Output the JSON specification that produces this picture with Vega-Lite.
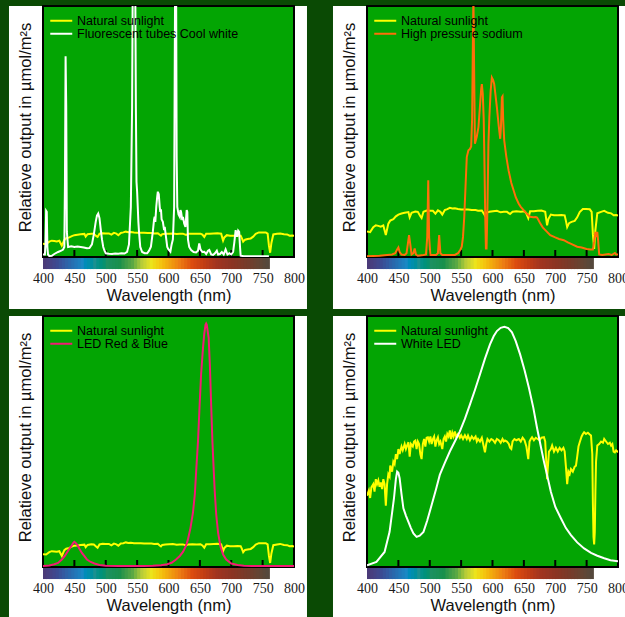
{
"$schema":"https://vega.github.io/schema/vega-lite/v6.json",
"background":"#0a4a04",
"padding":{"left":8,"top":5,"right":0,"bottom":0},
"config":{
 "view":{"stroke":null,"fill":null},
 "legend":{"orient":"none","legendX":12,"legendY":8.5,"symbolType":"M-2.75,0H2.75","symbolSize":64,"symbolStrokeWidth":2,"labelFont":"Liberation Sans","labelFontSize":12.5,"labelColor":"#000000","labelOffset":9.5,"labelLimit":0,"rowPadding":0,"padding":0}
},
"datasets":{
 "one":[{}],
 "spectrum":[{"a":400,"b":405},{"a":405,"b":410},{"a":410,"b":415},{"a":415,"b":420},{"a":420,"b":425},{"a":425,"b":430},{"a":430,"b":435},{"a":435,"b":440},{"a":440,"b":445},{"a":445,"b":450},{"a":450,"b":455},{"a":455,"b":460},{"a":460,"b":465},{"a":465,"b":470},{"a":470,"b":475},{"a":475,"b":480},{"a":480,"b":485},{"a":485,"b":490},{"a":490,"b":495},{"a":495,"b":500},{"a":500,"b":505},{"a":505,"b":510},{"a":510,"b":515},{"a":515,"b":520},{"a":520,"b":525},{"a":525,"b":530},{"a":530,"b":535},{"a":535,"b":540},{"a":540,"b":545},{"a":545,"b":550},{"a":550,"b":555},{"a":555,"b":560},{"a":560,"b":565},{"a":565,"b":570},{"a":570,"b":575},{"a":575,"b":580},{"a":580,"b":585},{"a":585,"b":590},{"a":590,"b":595},{"a":595,"b":600},{"a":600,"b":605},{"a":605,"b":610},{"a":610,"b":615},{"a":615,"b":620},{"a":620,"b":625},{"a":625,"b":630},{"a":630,"b":635},{"a":635,"b":640},{"a":640,"b":645},{"a":645,"b":650},{"a":650,"b":655},{"a":655,"b":660},{"a":660,"b":665},{"a":665,"b":670},{"a":670,"b":675},{"a":675,"b":680},{"a":680,"b":685},{"a":685,"b":690},{"a":690,"b":695},{"a":695,"b":700},{"a":700,"b":705},{"a":705,"b":710},{"a":710,"b":715},{"a":715,"b":720},{"a":720,"b":725},{"a":725,"b":730},{"a":730,"b":735},{"a":735,"b":740},{"a":740,"b":745},{"a":745,"b":750},{"a":750,"b":755},{"a":755,"b":760}],
 "ticks":[{"t":450},{"t":500},{"t":550},{"t":600},{"t":650},{"t":700},{"t":750}],
 "sun1":[{"wl":400,"v":5.3},{"wl":405,"v":5.1},{"wl":410,"v":6.1},{"wl":414,"v":6.5},{"wl":418,"v":6.4},{"wl":422,"v":6.2},{"wl":426,"v":6.5},{"wl":430,"v":4.5},{"wl":434,"v":6.8},{"wl":437,"v":7.5},{"wl":442,"v":7.8},{"wl":446,"v":8.3},{"wl":450,"v":8.7},{"wl":455,"v":8.9},{"wl":460,"v":9.1},{"wl":466,"v":9.2},{"wl":468,"v":8.1},{"wl":471,"v":9.1},{"wl":477,"v":9.3},{"wl":481,"v":9.3},{"wl":485,"v":8.3},{"wl":487,"v":8},{"wl":490,"v":9.3},{"wl":495,"v":9.5},{"wl":500,"v":9.4},{"wl":505,"v":9.4},{"wl":509,"v":8.9},{"wl":513,"v":9.6},{"wl":517,"v":9.3},{"wl":520,"v":8.7},{"wl":524,"v":9.6},{"wl":528,"v":9.8},{"wl":532,"v":10.1},{"wl":536,"v":9.9},{"wl":540,"v":10},{"wl":545,"v":9.8},{"wl":550,"v":9.7},{"wl":556,"v":9.7},{"wl":561,"v":9.7},{"wl":567,"v":9.6},{"wl":573,"v":9.6},{"wl":577,"v":9.4},{"wl":583,"v":9.5},{"wl":586,"v":8.9},{"wl":588,"v":8.5},{"wl":590,"v":9.1},{"wl":595,"v":9.3},{"wl":601,"v":9.3},{"wl":607,"v":9.4},{"wl":613,"v":9.2},{"wl":618,"v":9.3},{"wl":623,"v":9.3},{"wl":628,"v":8.8},{"wl":632,"v":9.3},{"wl":638,"v":9.3},{"wl":645,"v":9.3},{"wl":651,"v":9.3},{"wl":654,"v":8.9},{"wl":657,"v":8},{"wl":660,"v":9.3},{"wl":666,"v":9.3},{"wl":672,"v":9.4},{"wl":678,"v":9.5},{"wl":684,"v":9.3},{"wl":686,"v":7.4},{"wl":687,"v":6.5},{"wl":689,"v":7.8},{"wl":693,"v":8.7},{"wl":698,"v":8.5},{"wl":704,"v":8.5},{"wl":710,"v":8.6},{"wl":715,"v":8.5},{"wl":717,"v":7.4},{"wl":719,"v":6.1},{"wl":722,"v":6.9},{"wl":726,"v":7.2},{"wl":731,"v":7.4},{"wl":735,"v":8.1},{"wl":739,"v":9.2},{"wl":744,"v":9.8},{"wl":749,"v":9.8},{"wl":755,"v":9.8},{"wl":758,"v":9.3},{"wl":760,"v":4.6},{"wl":762,"v":1.7},{"wl":764,"v":5.6},{"wl":767,"v":9},{"wl":773,"v":9.3},{"wl":778,"v":9.4},{"wl":784,"v":9.1},{"wl":789,"v":9},{"wl":793,"v":8.5},{"wl":797,"v":8.6},{"wl":800,"v":8.5}],
 "fl":[{"wl":400,"v":1},{"wl":403,"v":1},{"wl":404,"v":5},{"wl":405,"v":18.4},{"wl":406,"v":18},{"wl":407,"v":4},{"wl":408,"v":1},{"wl":410,"v":0.4},{"wl":414,"v":0.5},{"wl":418,"v":1.2},{"wl":424,"v":2},{"wl":429,"v":2.5},{"wl":432,"v":3},{"wl":434,"v":4},{"wl":435,"v":30},{"wl":436,"v":80},{"wl":437,"v":60},{"wl":438,"v":10},{"wl":440,"v":4},{"wl":445,"v":4.3},{"wl":450,"v":4},{"wl":455,"v":4.2},{"wl":460,"v":4},{"wl":465,"v":3.8},{"wl":470,"v":3.5},{"wl":474,"v":3.6},{"wl":478,"v":5},{"wl":481,"v":9},{"wl":484,"v":14},{"wl":486,"v":16.5},{"wl":488,"v":17.3},{"wl":490,"v":15.5},{"wl":492,"v":11},{"wl":494,"v":7},{"wl":496,"v":4},{"wl":498,"v":2.5},{"wl":500,"v":1.5},{"wl":505,"v":1.3},{"wl":510,"v":1.2},{"wl":515,"v":1.4},{"wl":520,"v":1.3},{"wl":525,"v":1.5},{"wl":530,"v":1.4},{"wl":534,"v":2},{"wl":537,"v":5},{"wl":540,"v":20},{"wl":542,"v":60},{"wl":543,"v":110},{"wl":545,"v":130},{"wl":547,"v":110},{"wl":548,"v":60},{"wl":549,"v":30},{"wl":550,"v":26},{"wl":551,"v":20},{"wl":552,"v":14},{"wl":553,"v":10},{"wl":555,"v":4},{"wl":558,"v":2},{"wl":562,"v":1.5},{"wl":566,"v":1.5},{"wl":569,"v":2.5},{"wl":572,"v":4.1},{"wl":575,"v":10},{"wl":577,"v":15},{"wl":578,"v":16},{"wl":579,"v":14},{"wl":580.5,"v":20},{"wl":582,"v":24},{"wl":583,"v":26},{"wl":584.5,"v":25},{"wl":586,"v":20},{"wl":587,"v":18},{"wl":588,"v":19},{"wl":589,"v":15},{"wl":591,"v":14},{"wl":593,"v":10.7},{"wl":594,"v":12},{"wl":596,"v":8},{"wl":598,"v":4},{"wl":600,"v":3},{"wl":603,"v":2.1},{"wl":605,"v":5},{"wl":607,"v":7},{"wl":609,"v":20},{"wl":610,"v":80},{"wl":611,"v":130},{"wl":612,"v":120},{"wl":613,"v":40},{"wl":614,"v":20},{"wl":616,"v":17},{"wl":618,"v":16},{"wl":619,"v":18.7},{"wl":620,"v":18},{"wl":622,"v":14.7},{"wl":623,"v":16},{"wl":625,"v":13.4},{"wl":627,"v":12},{"wl":629,"v":18.7},{"wl":630,"v":18},{"wl":631,"v":7},{"wl":633,"v":4},{"wl":636,"v":2.8},{"wl":640,"v":2},{"wl":644,"v":1.8},{"wl":647,"v":2.5},{"wl":649,"v":5.4},{"wl":651,"v":3},{"wl":654,"v":2},{"wl":657,"v":2.1},{"wl":660,"v":1.2},{"wl":663,"v":2.5},{"wl":665,"v":2.8},{"wl":668,"v":1},{"wl":671,"v":0.8},{"wl":674,"v":1.5},{"wl":677,"v":2.5},{"wl":679,"v":1},{"wl":682,"v":1.2},{"wl":685,"v":2},{"wl":688,"v":1},{"wl":691,"v":3},{"wl":694,"v":1},{"wl":697,"v":1.5},{"wl":700,"v":1},{"wl":703,"v":2},{"wl":705,"v":6},{"wl":707,"v":10.7},{"wl":709,"v":8},{"wl":711,"v":10.5},{"wl":712.6,"v":10},{"wl":714,"v":4},{"wl":715,"v":0.5},{"wl":720,"v":0.3},{"wl":730,"v":0.3},{"wl":740,"v":0.3},{"wl":750,"v":0.3},{"wl":760,"v":0.3}],
 "sun2":[{"wl":400,"v":10.2},{"wl":405,"v":9.9},{"wl":410,"v":11.9},{"wl":414,"v":12.6},{"wl":418,"v":12.4},{"wl":422,"v":12.1},{"wl":426,"v":12.6},{"wl":430,"v":8.8},{"wl":434,"v":13.3},{"wl":437,"v":14.5},{"wl":442,"v":15.1},{"wl":446,"v":16.2},{"wl":450,"v":16.9},{"wl":455,"v":17.3},{"wl":460,"v":17.6},{"wl":466,"v":17.9},{"wl":468,"v":15.8},{"wl":471,"v":17.6},{"wl":477,"v":18.1},{"wl":481,"v":18},{"wl":485,"v":16.2},{"wl":487,"v":15.5},{"wl":490,"v":18},{"wl":495,"v":18.5},{"wl":500,"v":18.4},{"wl":505,"v":18.4},{"wl":509,"v":17.3},{"wl":513,"v":18.6},{"wl":517,"v":18},{"wl":520,"v":16.9},{"wl":524,"v":18.7},{"wl":528,"v":19.1},{"wl":532,"v":19.6},{"wl":536,"v":19.3},{"wl":540,"v":19.4},{"wl":545,"v":19.1},{"wl":550,"v":18.9},{"wl":556,"v":18.9},{"wl":561,"v":18.9},{"wl":567,"v":18.7},{"wl":573,"v":18.7},{"wl":577,"v":18.4},{"wl":583,"v":18.5},{"wl":586,"v":17.3},{"wl":588,"v":16.5},{"wl":590,"v":17.6},{"wl":595,"v":18},{"wl":601,"v":18.2},{"wl":607,"v":18.4},{"wl":613,"v":17.8},{"wl":618,"v":18},{"wl":623,"v":18},{"wl":628,"v":17.1},{"wl":632,"v":18},{"wl":638,"v":18.2},{"wl":645,"v":18},{"wl":651,"v":18.2},{"wl":654,"v":17.3},{"wl":657,"v":15.5},{"wl":660,"v":18.2},{"wl":666,"v":18.2},{"wl":672,"v":18.4},{"wl":678,"v":18.5},{"wl":684,"v":18},{"wl":686,"v":14.4},{"wl":687,"v":12.6},{"wl":689,"v":15.1},{"wl":693,"v":16.9},{"wl":698,"v":16.6},{"wl":704,"v":16.6},{"wl":710,"v":16.7},{"wl":715,"v":16.6},{"wl":717,"v":14.4},{"wl":719,"v":11.9},{"wl":722,"v":13.5},{"wl":726,"v":14},{"wl":731,"v":14.4},{"wl":735,"v":15.8},{"wl":739,"v":17.9},{"wl":744,"v":19.1},{"wl":749,"v":19.1},{"wl":755,"v":19},{"wl":758,"v":18},{"wl":760,"v":9},{"wl":762,"v":3.2},{"wl":764,"v":10.8},{"wl":767,"v":17.4},{"wl":773,"v":18},{"wl":778,"v":18.4},{"wl":784,"v":17.6},{"wl":789,"v":17.4},{"wl":793,"v":16.6},{"wl":797,"v":16.7},{"wl":800,"v":16.5}],
 "hps":[{"wl":400,"v":0.3},{"wl":420,"v":0.5},{"wl":440,"v":1},{"wl":445,"v":1.5},{"wl":448,"v":3},{"wl":450,"v":3.8},{"wl":452,"v":2},{"wl":455,"v":1},{"wl":460,"v":0.8},{"wl":463,"v":1.5},{"wl":465,"v":5},{"wl":467,"v":8.7},{"wl":469,"v":5},{"wl":471,"v":1},{"wl":474,"v":1.5},{"wl":476,"v":3.4},{"wl":478,"v":1},{"wl":481,"v":0.5},{"wl":490,"v":0.8},{"wl":494,"v":1},{"wl":496,"v":8},{"wl":497.6,"v":30.6},{"wl":499,"v":8},{"wl":501,"v":0.8},{"wl":510,"v":0.8},{"wl":513,"v":1.5},{"wl":515,"v":8.7},{"wl":517,"v":1.5},{"wl":520,"v":0.8},{"wl":530,"v":0.8},{"wl":540,"v":0.8},{"wl":545,"v":1.5},{"wl":549,"v":3},{"wl":551,"v":4.1},{"wl":553,"v":8},{"wl":555,"v":16},{"wl":557,"v":28},{"wl":559,"v":39.8},{"wl":561.6,"v":42.5},{"wl":564,"v":43},{"wl":566,"v":44},{"wl":567.5,"v":55},{"wl":568.5,"v":80},{"wl":569.6,"v":105},{"wl":570.5,"v":80},{"wl":572,"v":45.1},{"wl":575,"v":48},{"wl":577.6,"v":51.7},{"wl":580,"v":60},{"wl":582,"v":67},{"wl":583,"v":68.9},{"wl":584.5,"v":65},{"wl":586,"v":55},{"wl":587,"v":40},{"wl":588.5,"v":15},{"wl":589.5,"v":3.4},{"wl":590.5,"v":3.4},{"wl":592,"v":20},{"wl":593.5,"v":45},{"wl":595,"v":55.7},{"wl":597,"v":66},{"wl":599,"v":71.5},{"wl":601,"v":70.5},{"wl":602.7,"v":68.9},{"wl":605,"v":64},{"wl":607,"v":59.6},{"wl":610,"v":52},{"wl":612.3,"v":47.1},{"wl":613.5,"v":52},{"wl":615,"v":63.6},{"wl":616,"v":64},{"wl":617,"v":55},{"wl":618.7,"v":46.4},{"wl":622,"v":40},{"wl":625.6,"v":34.5},{"wl":630,"v":29.5},{"wl":633.6,"v":26.6},{"wl":637,"v":23.8},{"wl":641.6,"v":21.3},{"wl":645,"v":20},{"wl":649.6,"v":18.7},{"wl":655,"v":17.2},{"wl":660,"v":16},{"wl":665,"v":15.8},{"wl":669,"v":15.9},{"wl":671,"v":15.7},{"wl":673,"v":14.8},{"wl":676,"v":13.4},{"wl":680,"v":11.8},{"wl":685,"v":10.5},{"wl":692,"v":8.7},{"wl":700,"v":7.8},{"wl":706,"v":7.2},{"wl":713.6,"v":6.7},{"wl":720,"v":5.8},{"wl":727,"v":5},{"wl":735,"v":4.1},{"wl":742,"v":3.8},{"wl":750,"v":3.2},{"wl":756,"v":3},{"wl":760,"v":3},{"wl":762,"v":6},{"wl":764,"v":10},{"wl":766,"v":8},{"wl":767,"v":10},{"wl":768.5,"v":6},{"wl":770,"v":1},{"wl":775,"v":0.8},{"wl":780,"v":1},{"wl":785,"v":1.2},{"wl":790,"v":0.8},{"wl":795,"v":1.6},{"wl":797,"v":1},{"wl":800,"v":1}],
 "sun3":[{"wl":400,"v":5.1},{"wl":405,"v":5},{"wl":410,"v":5.9},{"wl":414,"v":6.3},{"wl":418,"v":6.2},{"wl":422,"v":6.1},{"wl":426,"v":6.3},{"wl":430,"v":4.4},{"wl":434,"v":6.7},{"wl":437,"v":7.3},{"wl":442,"v":7.6},{"wl":446,"v":8.1},{"wl":450,"v":8.5},{"wl":455,"v":8.6},{"wl":460,"v":8.8},{"wl":466,"v":8.9},{"wl":468,"v":7.9},{"wl":471,"v":8.8},{"wl":477,"v":9.1},{"wl":481,"v":9},{"wl":485,"v":8.1},{"wl":487,"v":7.7},{"wl":490,"v":9},{"wl":495,"v":9.3},{"wl":500,"v":9.2},{"wl":505,"v":9.2},{"wl":509,"v":8.6},{"wl":513,"v":9.3},{"wl":517,"v":9},{"wl":520,"v":8.5},{"wl":524,"v":9.4},{"wl":528,"v":9.5},{"wl":532,"v":9.8},{"wl":536,"v":9.6},{"wl":540,"v":9.7},{"wl":545,"v":9.5},{"wl":550,"v":9.5},{"wl":556,"v":9.5},{"wl":561,"v":9.4},{"wl":567,"v":9.4},{"wl":573,"v":9.4},{"wl":577,"v":9.2},{"wl":583,"v":9.3},{"wl":586,"v":8.6},{"wl":588,"v":8.2},{"wl":590,"v":8.8},{"wl":595,"v":9},{"wl":601,"v":9.1},{"wl":607,"v":9.2},{"wl":613,"v":8.9},{"wl":618,"v":9},{"wl":623,"v":9},{"wl":628,"v":8.6},{"wl":632,"v":9},{"wl":638,"v":9.1},{"wl":645,"v":9},{"wl":651,"v":9.1},{"wl":654,"v":8.6},{"wl":657,"v":7.7},{"wl":660,"v":9.1},{"wl":666,"v":9.1},{"wl":672,"v":9.2},{"wl":678,"v":9.3},{"wl":684,"v":9},{"wl":686,"v":7.2},{"wl":687,"v":6.3},{"wl":689,"v":7.6},{"wl":693,"v":8.5},{"wl":698,"v":8.3},{"wl":704,"v":8.3},{"wl":710,"v":8.4},{"wl":715,"v":8.3},{"wl":717,"v":7.2},{"wl":719,"v":5.9},{"wl":722,"v":6.8},{"wl":726,"v":7},{"wl":731,"v":7.2},{"wl":735,"v":7.9},{"wl":739,"v":8.9},{"wl":744,"v":9.5},{"wl":749,"v":9.5},{"wl":755,"v":9.5},{"wl":758,"v":9},{"wl":760,"v":4.5},{"wl":762,"v":1.6},{"wl":764,"v":5.4},{"wl":767,"v":8.7},{"wl":773,"v":9},{"wl":778,"v":9.2},{"wl":784,"v":8.8},{"wl":789,"v":8.7},{"wl":793,"v":8.3},{"wl":797,"v":8.4},{"wl":800,"v":8.2}],
 "led":[{"wl":400,"v":0.4},{"wl":410,"v":0.6},{"wl":418,"v":1.1},{"wl":424,"v":1.6},{"wl":430,"v":3},{"wl":435,"v":4.5},{"wl":440,"v":6.5},{"wl":445,"v":8.3},{"wl":448,"v":9.5},{"wl":450,"v":10},{"wl":452,"v":9.6},{"wl":455,"v":8.7},{"wl":458,"v":7.3},{"wl":462,"v":5.6},{"wl":466,"v":4.3},{"wl":470,"v":3},{"wl":476,"v":2},{"wl":482,"v":1.4},{"wl":490,"v":0.8},{"wl":500,"v":0.5},{"wl":520,"v":0.4},{"wl":540,"v":0.4},{"wl":560,"v":0.4},{"wl":575,"v":0.5},{"wl":588,"v":0.7},{"wl":598,"v":1.1},{"wl":605,"v":1.7},{"wl":612,"v":3},{"wl":618,"v":4.4},{"wl":623,"v":6},{"wl":628,"v":8.5},{"wl":631,"v":11},{"wl":635,"v":15.5},{"wl":639,"v":21.7},{"wl":642,"v":29},{"wl":644,"v":37.8},{"wl":647,"v":50},{"wl":649.6,"v":64.5},{"wl":652,"v":77},{"wl":655,"v":87.3},{"wl":657,"v":93},{"wl":659,"v":96.5},{"wl":660,"v":97},{"wl":661,"v":96.5},{"wl":664,"v":91.3},{"wl":666,"v":80},{"wl":668,"v":64.5},{"wl":670,"v":50},{"wl":672,"v":39},{"wl":673.5,"v":31},{"wl":676,"v":21},{"wl":679,"v":13.7},{"wl":683,"v":8},{"wl":687,"v":5},{"wl":692,"v":3},{"wl":700,"v":1.4},{"wl":710,"v":0.8},{"wl":720,"v":0.5},{"wl":733,"v":0.4},{"wl":760,"v":0.4},{"wl":800,"v":0.4}],
 "sun4":[{"wl":400,"v":28.4},{"wl":403,"v":30.5},{"wl":405,"v":27.5},{"wl":407,"v":31.7},{"wl":410,"v":33},{"wl":412,"v":30},{"wl":414,"v":35},{"wl":416,"v":33},{"wl":418,"v":34.5},{"wl":420,"v":32},{"wl":422,"v":33.7},{"wl":424,"v":31},{"wl":426,"v":35},{"wl":428,"v":33},{"wl":430,"v":24.4},{"wl":432,"v":33},{"wl":434,"v":37},{"wl":436,"v":36},{"wl":437,"v":40.4},{"wl":440,"v":38},{"wl":442,"v":42},{"wl":444,"v":41},{"wl":446,"v":45},{"wl":448,"v":43},{"wl":450,"v":47},{"wl":452,"v":45},{"wl":455,"v":48},{"wl":457,"v":46.5},{"wl":460,"v":49},{"wl":462,"v":47},{"wl":464,"v":48.5},{"wl":466,"v":49.7},{"wl":468,"v":44},{"wl":470,"v":49},{"wl":473,"v":48},{"wl":475,"v":50},{"wl":477,"v":50.4},{"wl":479,"v":47},{"wl":481,"v":50},{"wl":483,"v":49},{"wl":485,"v":45},{"wl":487,"v":43},{"wl":489,"v":49},{"wl":491,"v":51},{"wl":493,"v":48},{"wl":495,"v":51.5},{"wl":497,"v":51.7},{"wl":499,"v":50},{"wl":501,"v":52},{"wl":503,"v":49},{"wl":505,"v":51},{"wl":507,"v":52},{"wl":509,"v":48},{"wl":511,"v":50.5},{"wl":513,"v":51.7},{"wl":515,"v":49},{"wl":517,"v":50},{"wl":520,"v":47},{"wl":522,"v":51},{"wl":524,"v":52},{"wl":526,"v":50},{"wl":528,"v":53},{"wl":530,"v":52},{"wl":532,"v":54.4},{"wl":534,"v":51},{"wl":536,"v":53.5},{"wl":538,"v":52},{"wl":540,"v":54},{"wl":542,"v":52},{"wl":545,"v":53},{"wl":548,"v":51.5},{"wl":550,"v":52.5},{"wl":553,"v":51},{"wl":556,"v":52.5},{"wl":559,"v":51},{"wl":561,"v":52.4},{"wl":564,"v":50.5},{"wl":567,"v":52},{"wl":570,"v":51},{"wl":573,"v":52},{"wl":575,"v":50},{"wl":577,"v":51},{"wl":580,"v":50},{"wl":583,"v":51.5},{"wl":586,"v":48},{"wl":588,"v":45.7},{"wl":590,"v":49},{"wl":592,"v":51},{"wl":595,"v":50},{"wl":598,"v":51},{"wl":601,"v":50.5},{"wl":604,"v":49.5},{"wl":607,"v":51},{"wl":610,"v":50.5},{"wl":613,"v":49.5},{"wl":616,"v":51},{"wl":618,"v":50},{"wl":620,"v":50.4},{"wl":623,"v":50},{"wl":626,"v":49},{"wl":628,"v":47.5},{"wl":630,"v":47},{"wl":632,"v":50},{"wl":635,"v":51},{"wl":638,"v":50.5},{"wl":642,"v":51},{"wl":645,"v":50},{"wl":648,"v":51.5},{"wl":651,"v":50.5},{"wl":654,"v":48},{"wl":657,"v":43},{"wl":659,"v":50},{"wl":661,"v":51},{"wl":663,"v":51.7},{"wl":666,"v":50.5},{"wl":669,"v":51.5},{"wl":672,"v":51},{"wl":675,"v":50.5},{"wl":678,"v":51.5},{"wl":682,"v":51.7},{"wl":684,"v":50},{"wl":686,"v":40},{"wl":687,"v":35},{"wl":688,"v":39},{"wl":690,"v":46},{"wl":693,"v":47},{"wl":695,"v":48.4},{"wl":698,"v":46},{"wl":701,"v":47.5},{"wl":704,"v":46},{"wl":707,"v":47.5},{"wl":710,"v":46.5},{"wl":713,"v":47.5},{"wl":715,"v":46},{"wl":717,"v":40},{"wl":719,"v":33},{"wl":721,"v":38},{"wl":723,"v":37},{"wl":725,"v":39},{"wl":728,"v":38},{"wl":731,"v":40},{"wl":733,"v":40.4},{"wl":735,"v":44},{"wl":737,"v":48},{"wl":739,"v":49.7},{"wl":742,"v":52},{"wl":744,"v":53},{"wl":746,"v":53.7},{"wl":749,"v":53},{"wl":752,"v":53.5},{"wl":755,"v":52.8},{"wl":757,"v":52.4},{"wl":759,"v":45},{"wl":760,"v":25},{"wl":761,"v":12},{"wl":762,"v":9},{"wl":763,"v":14},{"wl":764,"v":30},{"wl":765,"v":42},{"wl":767,"v":48.4},{"wl":770,"v":49},{"wl":773,"v":50},{"wl":776,"v":49.5},{"wl":778,"v":51},{"wl":781,"v":50},{"wl":784,"v":49},{"wl":787,"v":49.5},{"wl":789,"v":48.4},{"wl":791,"v":49},{"wl":793,"v":46},{"wl":795,"v":45.7},{"wl":797,"v":46.5},{"wl":800,"v":45.7}],
 "wled":[{"wl":400,"v":0.7},{"wl":415,"v":2},{"wl":428,"v":6},{"wl":436,"v":14},{"wl":443,"v":27.4},{"wl":446,"v":35},{"wl":448,"v":38},{"wl":450,"v":37.5},{"wl":452,"v":35.4},{"wl":455,"v":29},{"wl":458,"v":23.4},{"wl":462,"v":20.5},{"wl":466,"v":18},{"wl":470,"v":15.5},{"wl":474,"v":13.4},{"wl":479,"v":12},{"wl":484,"v":12.5},{"wl":490,"v":14},{"wl":496,"v":18.5},{"wl":503,"v":24.7},{"wl":510,"v":31},{"wl":516,"v":36.7},{"wl":524,"v":41.5},{"wl":532,"v":46},{"wl":540,"v":50},{"wl":548,"v":54},{"wl":556,"v":59},{"wl":564,"v":64.7},{"wl":572,"v":70.5},{"wl":580,"v":76.7},{"wl":588,"v":83},{"wl":596,"v":88.7},{"wl":602,"v":92},{"wl":607,"v":94},{"wl":613,"v":95.3},{"wl":619,"v":95.7},{"wl":625,"v":95.2},{"wl":631,"v":93.5},{"wl":637,"v":90},{"wl":644,"v":84.7},{"wl":651,"v":78.5},{"wl":658,"v":71.4},{"wl":665,"v":63.5},{"wl":671,"v":55.4},{"wl":677,"v":48},{"wl":682,"v":42},{"wl":688,"v":35.5},{"wl":693,"v":30},{"wl":700,"v":24},{"wl":709,"v":19.4},{"wl":717,"v":15.5},{"wl":725,"v":12.7},{"wl":735,"v":9.8},{"wl":746,"v":7.4},{"wl":757,"v":5.6},{"wl":767,"v":4.5},{"wl":778,"v":3.5},{"wl":788,"v":2.7},{"wl":800,"v":2.3}]
},
"resolve":{"scale":{"stroke":"independent","x":"independent","y":"independent"},"legend":{"stroke":"independent"}},
"columns":2,
"spacing":{"row":6,"column":25},
"concat":[
 {"width":251,"height":251,"layer":[
  {"data":{"name":"one"},"mark":{"type":"rect","fill":"#ffffff"},"encoding":{"x":{"datum":345.8,"type":"quantitative","title":"Wavelength (nm)","scale":{"domain":[400,800],"nice":false,"zero":false},"axis":{"values":[400,450,500,550,600,650,700,750,800],"zindex":2,"domain":false,"ticks":false,"grid":false,"labelFont":"Liberation Serif","labelFontSize":14,"labelColor":"#1a1a1a","labelPadding":14,"labelFlush":false,"labelOverlap":false,"labelSeparation":0,"titleFont":"Liberation Sans","titleFontSize":16.5,"titleFontWeight":"normal","titleColor":"#111111","titlePadding":2}},"x2":{"datum":820.7},"y":{"datum":100,"type":"quantitative","title":"Relatieve output in µmol/m²s","scale":{"domain":[0,100],"nice":false,"zero":false},"axis":{"zindex":2,"domain":false,"ticks":false,"labels":false,"grid":false,"titleFont":"Liberation Sans","titleFontSize":16.5,"titleFontWeight":"normal","titleColor":"#111111","titlePadding":10,"titleY":121}},"y2":{"datum":-20.7}}},
  {"data":{"name":"spectrum"},"mark":{"type":"rect","x2Offset":1},"encoding":{"x":{"field":"a","type":"quantitative","title":"Wavelength (nm)","axis":{"values":[400,450,500,550,600,650,700,750,800],"zindex":2,"domain":false,"ticks":false,"grid":false,"labelFont":"Liberation Serif","labelFontSize":14,"labelColor":"#1a1a1a","labelPadding":14,"labelFlush":false,"labelOverlap":false,"labelSeparation":0,"titleFont":"Liberation Sans","titleFontSize":16.5,"titleFontWeight":"normal","titleColor":"#111111","titlePadding":2}},"x2":{"field":"b"},"y":{"datum":-0.4,"type":"quantitative","title":"Relatieve output in µmol/m²s","axis":{"zindex":2,"domain":false,"ticks":false,"labels":false,"grid":false,"titleFont":"Liberation Sans","titleFontSize":16.5,"titleFontWeight":"normal","titleColor":"#111111","titlePadding":10,"titleY":121}},"y2":{"datum":-4.8},"fill":{"field":"a","type":"quantitative","legend":null,"scale":{"type":"linear","domain":[400,420,440,460,480,500,520,540,555,570,585,600,615,635,655,675,700,725,745,760],"range":["#4a3a78","#3c4a92","#2a68ac","#1a88c4","#1a9090","#1c9060","#1a904c","#5aa844","#b8cc38","#ece41c","#f4c410","#f0a010","#ec7c14","#dc4c10","#c03c14","#a03420","#8a3424","#743c2c","#604636","#504840"]}}}},
  {"data":{"name":"one"},"mark":{"type":"rect","fill":"#03a503","stroke":"#000000","strokeWidth":2},"encoding":{"x":{"datum":400,"type":"quantitative","title":"Wavelength (nm)","axis":{"values":[400,450,500,550,600,650,700,750,800],"zindex":2,"domain":false,"ticks":false,"grid":false,"labelFont":"Liberation Serif","labelFontSize":14,"labelColor":"#1a1a1a","labelPadding":14,"labelFlush":false,"labelOverlap":false,"labelSeparation":0,"titleFont":"Liberation Sans","titleFontSize":16.5,"titleFontWeight":"normal","titleColor":"#111111","titlePadding":2}},"x2":{"datum":800},"y":{"datum":0,"type":"quantitative","title":"Relatieve output in µmol/m²s","axis":{"zindex":2,"domain":false,"ticks":false,"labels":false,"grid":false,"titleFont":"Liberation Sans","titleFontSize":16.5,"titleFontWeight":"normal","titleColor":"#111111","titlePadding":10,"titleY":121}},"y2":{"datum":100}}},
  {"data":{"name":"ticks"},"mark":{"type":"rule","stroke":"#000000","strokeWidth":2},"encoding":{"x":{"field":"t","type":"quantitative","title":"Wavelength (nm)","axis":{"values":[400,450,500,550,600,650,700,750,800],"zindex":2,"domain":false,"ticks":false,"grid":false,"labelFont":"Liberation Serif","labelFontSize":14,"labelColor":"#1a1a1a","labelPadding":14,"labelFlush":false,"labelOverlap":false,"labelSeparation":0,"titleFont":"Liberation Sans","titleFontSize":16.5,"titleFontWeight":"normal","titleColor":"#111111","titlePadding":2}},"y":{"datum":0,"type":"quantitative","title":"Relatieve output in µmol/m²s","axis":{"zindex":2,"domain":false,"ticks":false,"labels":false,"grid":false,"titleFont":"Liberation Sans","titleFontSize":16.5,"titleFontWeight":"normal","titleColor":"#111111","titlePadding":10,"titleY":121}},"y2":{"datum":2.8}}},
  {"data":{"name":"sun1"},"mark":{"type":"line","clip":true,"strokeWidth":2},"encoding":{"x":{"field":"wl","type":"quantitative","title":"Wavelength (nm)","axis":{"values":[400,450,500,550,600,650,700,750,800],"zindex":2,"domain":false,"ticks":false,"grid":false,"labelFont":"Liberation Serif","labelFontSize":14,"labelColor":"#1a1a1a","labelPadding":14,"labelFlush":false,"labelOverlap":false,"labelSeparation":0,"titleFont":"Liberation Sans","titleFontSize":16.5,"titleFontWeight":"normal","titleColor":"#111111","titlePadding":2}},"y":{"field":"v","type":"quantitative","title":"Relatieve output in µmol/m²s","axis":{"zindex":2,"domain":false,"ticks":false,"labels":false,"grid":false,"titleFont":"Liberation Sans","titleFontSize":16.5,"titleFontWeight":"normal","titleColor":"#111111","titlePadding":10,"titleY":121}},"stroke":{"datum":"Natural sunlight","type":"nominal","scale":{"domain":["Natural sunlight","Fluorescent tubes Cool white"],"range":["#ffff00","#ffffff"]},"legend":{"title":null}}}},
  {"data":{"name":"fl"},"mark":{"type":"line","clip":true,"strokeWidth":2},"encoding":{"x":{"field":"wl","type":"quantitative","title":"Wavelength (nm)","axis":{"values":[400,450,500,550,600,650,700,750,800],"zindex":2,"domain":false,"ticks":false,"grid":false,"labelFont":"Liberation Serif","labelFontSize":14,"labelColor":"#1a1a1a","labelPadding":14,"labelFlush":false,"labelOverlap":false,"labelSeparation":0,"titleFont":"Liberation Sans","titleFontSize":16.5,"titleFontWeight":"normal","titleColor":"#111111","titlePadding":2}},"y":{"field":"v","type":"quantitative","title":"Relatieve output in µmol/m²s","axis":{"zindex":2,"domain":false,"ticks":false,"labels":false,"grid":false,"titleFont":"Liberation Sans","titleFontSize":16.5,"titleFontWeight":"normal","titleColor":"#111111","titlePadding":10,"titleY":121}},"stroke":{"datum":"Fluorescent tubes Cool white","type":"nominal"}}}
 ]},
 {"width":251,"height":251,"layer":[
  {"data":{"name":"one"},"mark":{"type":"rect","fill":"#ffffff"},"encoding":{"x":{"datum":345.8,"type":"quantitative","title":"Wavelength (nm)","scale":{"domain":[400,800],"nice":false,"zero":false},"axis":{"values":[400,450,500,550,600,650,700,750,800],"zindex":2,"domain":false,"ticks":false,"grid":false,"labelFont":"Liberation Serif","labelFontSize":14,"labelColor":"#1a1a1a","labelPadding":14,"labelFlush":false,"labelOverlap":false,"labelSeparation":0,"titleFont":"Liberation Sans","titleFontSize":16.5,"titleFontWeight":"normal","titleColor":"#111111","titlePadding":2}},"x2":{"datum":820.7},"y":{"datum":100,"type":"quantitative","title":"Relatieve output in µmol/m²s","scale":{"domain":[0,100],"nice":false,"zero":false},"axis":{"zindex":2,"domain":false,"ticks":false,"labels":false,"grid":false,"titleFont":"Liberation Sans","titleFontSize":16.5,"titleFontWeight":"normal","titleColor":"#111111","titlePadding":10,"titleY":121}},"y2":{"datum":-20.7}}},
  {"data":{"name":"spectrum"},"mark":{"type":"rect","x2Offset":1},"encoding":{"x":{"field":"a","type":"quantitative","title":"Wavelength (nm)","axis":{"values":[400,450,500,550,600,650,700,750,800],"zindex":2,"domain":false,"ticks":false,"grid":false,"labelFont":"Liberation Serif","labelFontSize":14,"labelColor":"#1a1a1a","labelPadding":14,"labelFlush":false,"labelOverlap":false,"labelSeparation":0,"titleFont":"Liberation Sans","titleFontSize":16.5,"titleFontWeight":"normal","titleColor":"#111111","titlePadding":2}},"x2":{"field":"b"},"y":{"datum":-0.4,"type":"quantitative","title":"Relatieve output in µmol/m²s","axis":{"zindex":2,"domain":false,"ticks":false,"labels":false,"grid":false,"titleFont":"Liberation Sans","titleFontSize":16.5,"titleFontWeight":"normal","titleColor":"#111111","titlePadding":10,"titleY":121}},"y2":{"datum":-4.8},"fill":{"field":"a","type":"quantitative","legend":null,"scale":{"type":"linear","domain":[400,420,440,460,480,500,520,540,555,570,585,600,615,635,655,675,700,725,745,760],"range":["#4a3a78","#3c4a92","#2a68ac","#1a88c4","#1a9090","#1c9060","#1a904c","#5aa844","#b8cc38","#ece41c","#f4c410","#f0a010","#ec7c14","#dc4c10","#c03c14","#a03420","#8a3424","#743c2c","#604636","#504840"]}}}},
  {"data":{"name":"one"},"mark":{"type":"rect","fill":"#03a503","stroke":"#000000","strokeWidth":2},"encoding":{"x":{"datum":400,"type":"quantitative","title":"Wavelength (nm)","axis":{"values":[400,450,500,550,600,650,700,750,800],"zindex":2,"domain":false,"ticks":false,"grid":false,"labelFont":"Liberation Serif","labelFontSize":14,"labelColor":"#1a1a1a","labelPadding":14,"labelFlush":false,"labelOverlap":false,"labelSeparation":0,"titleFont":"Liberation Sans","titleFontSize":16.5,"titleFontWeight":"normal","titleColor":"#111111","titlePadding":2}},"x2":{"datum":800},"y":{"datum":0,"type":"quantitative","title":"Relatieve output in µmol/m²s","axis":{"zindex":2,"domain":false,"ticks":false,"labels":false,"grid":false,"titleFont":"Liberation Sans","titleFontSize":16.5,"titleFontWeight":"normal","titleColor":"#111111","titlePadding":10,"titleY":121}},"y2":{"datum":100}}},
  {"data":{"name":"ticks"},"mark":{"type":"rule","stroke":"#000000","strokeWidth":2},"encoding":{"x":{"field":"t","type":"quantitative","title":"Wavelength (nm)","axis":{"values":[400,450,500,550,600,650,700,750,800],"zindex":2,"domain":false,"ticks":false,"grid":false,"labelFont":"Liberation Serif","labelFontSize":14,"labelColor":"#1a1a1a","labelPadding":14,"labelFlush":false,"labelOverlap":false,"labelSeparation":0,"titleFont":"Liberation Sans","titleFontSize":16.5,"titleFontWeight":"normal","titleColor":"#111111","titlePadding":2}},"y":{"datum":0,"type":"quantitative","title":"Relatieve output in µmol/m²s","axis":{"zindex":2,"domain":false,"ticks":false,"labels":false,"grid":false,"titleFont":"Liberation Sans","titleFontSize":16.5,"titleFontWeight":"normal","titleColor":"#111111","titlePadding":10,"titleY":121}},"y2":{"datum":2.8}}},
  {"data":{"name":"sun2"},"mark":{"type":"line","clip":true,"strokeWidth":2},"encoding":{"x":{"field":"wl","type":"quantitative","title":"Wavelength (nm)","axis":{"values":[400,450,500,550,600,650,700,750,800],"zindex":2,"domain":false,"ticks":false,"grid":false,"labelFont":"Liberation Serif","labelFontSize":14,"labelColor":"#1a1a1a","labelPadding":14,"labelFlush":false,"labelOverlap":false,"labelSeparation":0,"titleFont":"Liberation Sans","titleFontSize":16.5,"titleFontWeight":"normal","titleColor":"#111111","titlePadding":2}},"y":{"field":"v","type":"quantitative","title":"Relatieve output in µmol/m²s","axis":{"zindex":2,"domain":false,"ticks":false,"labels":false,"grid":false,"titleFont":"Liberation Sans","titleFontSize":16.5,"titleFontWeight":"normal","titleColor":"#111111","titlePadding":10,"titleY":121}},"stroke":{"datum":"Natural sunlight","type":"nominal","scale":{"domain":["Natural sunlight","High pressure sodium"],"range":["#ffff00","#ff6e0a"]},"legend":{"title":null}}}},
  {"data":{"name":"hps"},"mark":{"type":"line","clip":true,"strokeWidth":2},"encoding":{"x":{"field":"wl","type":"quantitative","title":"Wavelength (nm)","axis":{"values":[400,450,500,550,600,650,700,750,800],"zindex":2,"domain":false,"ticks":false,"grid":false,"labelFont":"Liberation Serif","labelFontSize":14,"labelColor":"#1a1a1a","labelPadding":14,"labelFlush":false,"labelOverlap":false,"labelSeparation":0,"titleFont":"Liberation Sans","titleFontSize":16.5,"titleFontWeight":"normal","titleColor":"#111111","titlePadding":2}},"y":{"field":"v","type":"quantitative","title":"Relatieve output in µmol/m²s","axis":{"zindex":2,"domain":false,"ticks":false,"labels":false,"grid":false,"titleFont":"Liberation Sans","titleFontSize":16.5,"titleFontWeight":"normal","titleColor":"#111111","titlePadding":10,"titleY":121}},"stroke":{"datum":"High pressure sodium","type":"nominal"}}}
 ]},
 {"width":251,"height":251,"layer":[
  {"data":{"name":"one"},"mark":{"type":"rect","fill":"#ffffff"},"encoding":{"x":{"datum":345.8,"type":"quantitative","title":"Wavelength (nm)","scale":{"domain":[400,800],"nice":false,"zero":false},"axis":{"values":[400,450,500,550,600,650,700,750,800],"zindex":2,"domain":false,"ticks":false,"grid":false,"labelFont":"Liberation Serif","labelFontSize":14,"labelColor":"#1a1a1a","labelPadding":14,"labelFlush":false,"labelOverlap":false,"labelSeparation":0,"titleFont":"Liberation Sans","titleFontSize":16.5,"titleFontWeight":"normal","titleColor":"#111111","titlePadding":2}},"x2":{"datum":820.7},"y":{"datum":100,"type":"quantitative","title":"Relatieve output in µmol/m²s","scale":{"domain":[0,100],"nice":false,"zero":false},"axis":{"zindex":2,"domain":false,"ticks":false,"labels":false,"grid":false,"titleFont":"Liberation Sans","titleFontSize":16.5,"titleFontWeight":"normal","titleColor":"#111111","titlePadding":10,"titleY":121}},"y2":{"datum":-20.7}}},
  {"data":{"name":"spectrum"},"mark":{"type":"rect","x2Offset":1},"encoding":{"x":{"field":"a","type":"quantitative","title":"Wavelength (nm)","axis":{"values":[400,450,500,550,600,650,700,750,800],"zindex":2,"domain":false,"ticks":false,"grid":false,"labelFont":"Liberation Serif","labelFontSize":14,"labelColor":"#1a1a1a","labelPadding":14,"labelFlush":false,"labelOverlap":false,"labelSeparation":0,"titleFont":"Liberation Sans","titleFontSize":16.5,"titleFontWeight":"normal","titleColor":"#111111","titlePadding":2}},"x2":{"field":"b"},"y":{"datum":-0.4,"type":"quantitative","title":"Relatieve output in µmol/m²s","axis":{"zindex":2,"domain":false,"ticks":false,"labels":false,"grid":false,"titleFont":"Liberation Sans","titleFontSize":16.5,"titleFontWeight":"normal","titleColor":"#111111","titlePadding":10,"titleY":121}},"y2":{"datum":-4.8},"fill":{"field":"a","type":"quantitative","legend":null,"scale":{"type":"linear","domain":[400,420,440,460,480,500,520,540,555,570,585,600,615,635,655,675,700,725,745,760],"range":["#4a3a78","#3c4a92","#2a68ac","#1a88c4","#1a9090","#1c9060","#1a904c","#5aa844","#b8cc38","#ece41c","#f4c410","#f0a010","#ec7c14","#dc4c10","#c03c14","#a03420","#8a3424","#743c2c","#604636","#504840"]}}}},
  {"data":{"name":"one"},"mark":{"type":"rect","fill":"#03a503","stroke":"#000000","strokeWidth":2},"encoding":{"x":{"datum":400,"type":"quantitative","title":"Wavelength (nm)","axis":{"values":[400,450,500,550,600,650,700,750,800],"zindex":2,"domain":false,"ticks":false,"grid":false,"labelFont":"Liberation Serif","labelFontSize":14,"labelColor":"#1a1a1a","labelPadding":14,"labelFlush":false,"labelOverlap":false,"labelSeparation":0,"titleFont":"Liberation Sans","titleFontSize":16.5,"titleFontWeight":"normal","titleColor":"#111111","titlePadding":2}},"x2":{"datum":800},"y":{"datum":0,"type":"quantitative","title":"Relatieve output in µmol/m²s","axis":{"zindex":2,"domain":false,"ticks":false,"labels":false,"grid":false,"titleFont":"Liberation Sans","titleFontSize":16.5,"titleFontWeight":"normal","titleColor":"#111111","titlePadding":10,"titleY":121}},"y2":{"datum":100}}},
  {"data":{"name":"ticks"},"mark":{"type":"rule","stroke":"#000000","strokeWidth":2},"encoding":{"x":{"field":"t","type":"quantitative","title":"Wavelength (nm)","axis":{"values":[400,450,500,550,600,650,700,750,800],"zindex":2,"domain":false,"ticks":false,"grid":false,"labelFont":"Liberation Serif","labelFontSize":14,"labelColor":"#1a1a1a","labelPadding":14,"labelFlush":false,"labelOverlap":false,"labelSeparation":0,"titleFont":"Liberation Sans","titleFontSize":16.5,"titleFontWeight":"normal","titleColor":"#111111","titlePadding":2}},"y":{"datum":0,"type":"quantitative","title":"Relatieve output in µmol/m²s","axis":{"zindex":2,"domain":false,"ticks":false,"labels":false,"grid":false,"titleFont":"Liberation Sans","titleFontSize":16.5,"titleFontWeight":"normal","titleColor":"#111111","titlePadding":10,"titleY":121}},"y2":{"datum":2.8}}},
  {"data":{"name":"sun3"},"mark":{"type":"line","clip":true,"strokeWidth":2},"encoding":{"x":{"field":"wl","type":"quantitative","title":"Wavelength (nm)","axis":{"values":[400,450,500,550,600,650,700,750,800],"zindex":2,"domain":false,"ticks":false,"grid":false,"labelFont":"Liberation Serif","labelFontSize":14,"labelColor":"#1a1a1a","labelPadding":14,"labelFlush":false,"labelOverlap":false,"labelSeparation":0,"titleFont":"Liberation Sans","titleFontSize":16.5,"titleFontWeight":"normal","titleColor":"#111111","titlePadding":2}},"y":{"field":"v","type":"quantitative","title":"Relatieve output in µmol/m²s","axis":{"zindex":2,"domain":false,"ticks":false,"labels":false,"grid":false,"titleFont":"Liberation Sans","titleFontSize":16.5,"titleFontWeight":"normal","titleColor":"#111111","titlePadding":10,"titleY":121}},"stroke":{"datum":"Natural sunlight","type":"nominal","scale":{"domain":["Natural sunlight","LED Red & Blue"],"range":["#ffff00","#f21b74"]},"legend":{"title":null}}}},
  {"data":{"name":"led"},"mark":{"type":"line","clip":true,"strokeWidth":2},"encoding":{"x":{"field":"wl","type":"quantitative","title":"Wavelength (nm)","axis":{"values":[400,450,500,550,600,650,700,750,800],"zindex":2,"domain":false,"ticks":false,"grid":false,"labelFont":"Liberation Serif","labelFontSize":14,"labelColor":"#1a1a1a","labelPadding":14,"labelFlush":false,"labelOverlap":false,"labelSeparation":0,"titleFont":"Liberation Sans","titleFontSize":16.5,"titleFontWeight":"normal","titleColor":"#111111","titlePadding":2}},"y":{"field":"v","type":"quantitative","title":"Relatieve output in µmol/m²s","axis":{"zindex":2,"domain":false,"ticks":false,"labels":false,"grid":false,"titleFont":"Liberation Sans","titleFontSize":16.5,"titleFontWeight":"normal","titleColor":"#111111","titlePadding":10,"titleY":121}},"stroke":{"datum":"LED Red & Blue","type":"nominal"}}}
 ]},
 {"width":251,"height":251,"layer":[
  {"data":{"name":"one"},"mark":{"type":"rect","fill":"#ffffff"},"encoding":{"x":{"datum":345.8,"type":"quantitative","title":"Wavelength (nm)","scale":{"domain":[400,800],"nice":false,"zero":false},"axis":{"values":[400,450,500,550,600,650,700,750,800],"zindex":2,"domain":false,"ticks":false,"grid":false,"labelFont":"Liberation Serif","labelFontSize":14,"labelColor":"#1a1a1a","labelPadding":14,"labelFlush":false,"labelOverlap":false,"labelSeparation":0,"titleFont":"Liberation Sans","titleFontSize":16.5,"titleFontWeight":"normal","titleColor":"#111111","titlePadding":2}},"x2":{"datum":820.7},"y":{"datum":100,"type":"quantitative","title":"Relatieve output in µmol/m²s","scale":{"domain":[0,100],"nice":false,"zero":false},"axis":{"zindex":2,"domain":false,"ticks":false,"labels":false,"grid":false,"titleFont":"Liberation Sans","titleFontSize":16.5,"titleFontWeight":"normal","titleColor":"#111111","titlePadding":10,"titleY":121}},"y2":{"datum":-20.7}}},
  {"data":{"name":"spectrum"},"mark":{"type":"rect","x2Offset":1},"encoding":{"x":{"field":"a","type":"quantitative","title":"Wavelength (nm)","axis":{"values":[400,450,500,550,600,650,700,750,800],"zindex":2,"domain":false,"ticks":false,"grid":false,"labelFont":"Liberation Serif","labelFontSize":14,"labelColor":"#1a1a1a","labelPadding":14,"labelFlush":false,"labelOverlap":false,"labelSeparation":0,"titleFont":"Liberation Sans","titleFontSize":16.5,"titleFontWeight":"normal","titleColor":"#111111","titlePadding":2}},"x2":{"field":"b"},"y":{"datum":-0.4,"type":"quantitative","title":"Relatieve output in µmol/m²s","axis":{"zindex":2,"domain":false,"ticks":false,"labels":false,"grid":false,"titleFont":"Liberation Sans","titleFontSize":16.5,"titleFontWeight":"normal","titleColor":"#111111","titlePadding":10,"titleY":121}},"y2":{"datum":-4.8},"fill":{"field":"a","type":"quantitative","legend":null,"scale":{"type":"linear","domain":[400,420,440,460,480,500,520,540,555,570,585,600,615,635,655,675,700,725,745,760],"range":["#4a3a78","#3c4a92","#2a68ac","#1a88c4","#1a9090","#1c9060","#1a904c","#5aa844","#b8cc38","#ece41c","#f4c410","#f0a010","#ec7c14","#dc4c10","#c03c14","#a03420","#8a3424","#743c2c","#604636","#504840"]}}}},
  {"data":{"name":"one"},"mark":{"type":"rect","fill":"#03a503","stroke":"#000000","strokeWidth":2},"encoding":{"x":{"datum":400,"type":"quantitative","title":"Wavelength (nm)","axis":{"values":[400,450,500,550,600,650,700,750,800],"zindex":2,"domain":false,"ticks":false,"grid":false,"labelFont":"Liberation Serif","labelFontSize":14,"labelColor":"#1a1a1a","labelPadding":14,"labelFlush":false,"labelOverlap":false,"labelSeparation":0,"titleFont":"Liberation Sans","titleFontSize":16.5,"titleFontWeight":"normal","titleColor":"#111111","titlePadding":2}},"x2":{"datum":800},"y":{"datum":0,"type":"quantitative","title":"Relatieve output in µmol/m²s","axis":{"zindex":2,"domain":false,"ticks":false,"labels":false,"grid":false,"titleFont":"Liberation Sans","titleFontSize":16.5,"titleFontWeight":"normal","titleColor":"#111111","titlePadding":10,"titleY":121}},"y2":{"datum":100}}},
  {"data":{"name":"ticks"},"mark":{"type":"rule","stroke":"#000000","strokeWidth":2},"encoding":{"x":{"field":"t","type":"quantitative","title":"Wavelength (nm)","axis":{"values":[400,450,500,550,600,650,700,750,800],"zindex":2,"domain":false,"ticks":false,"grid":false,"labelFont":"Liberation Serif","labelFontSize":14,"labelColor":"#1a1a1a","labelPadding":14,"labelFlush":false,"labelOverlap":false,"labelSeparation":0,"titleFont":"Liberation Sans","titleFontSize":16.5,"titleFontWeight":"normal","titleColor":"#111111","titlePadding":2}},"y":{"datum":0,"type":"quantitative","title":"Relatieve output in µmol/m²s","axis":{"zindex":2,"domain":false,"ticks":false,"labels":false,"grid":false,"titleFont":"Liberation Sans","titleFontSize":16.5,"titleFontWeight":"normal","titleColor":"#111111","titlePadding":10,"titleY":121}},"y2":{"datum":2.8}}},
  {"data":{"name":"sun4"},"mark":{"type":"line","clip":true,"strokeWidth":2},"encoding":{"x":{"field":"wl","type":"quantitative","title":"Wavelength (nm)","axis":{"values":[400,450,500,550,600,650,700,750,800],"zindex":2,"domain":false,"ticks":false,"grid":false,"labelFont":"Liberation Serif","labelFontSize":14,"labelColor":"#1a1a1a","labelPadding":14,"labelFlush":false,"labelOverlap":false,"labelSeparation":0,"titleFont":"Liberation Sans","titleFontSize":16.5,"titleFontWeight":"normal","titleColor":"#111111","titlePadding":2}},"y":{"field":"v","type":"quantitative","title":"Relatieve output in µmol/m²s","axis":{"zindex":2,"domain":false,"ticks":false,"labels":false,"grid":false,"titleFont":"Liberation Sans","titleFontSize":16.5,"titleFontWeight":"normal","titleColor":"#111111","titlePadding":10,"titleY":121}},"stroke":{"datum":"Natural sunlight","type":"nominal","scale":{"domain":["Natural sunlight","White LED"],"range":["#ffff00","#ffffff"]},"legend":{"title":null}}}},
  {"data":{"name":"wled"},"mark":{"type":"line","clip":true,"strokeWidth":2},"encoding":{"x":{"field":"wl","type":"quantitative","title":"Wavelength (nm)","axis":{"values":[400,450,500,550,600,650,700,750,800],"zindex":2,"domain":false,"ticks":false,"grid":false,"labelFont":"Liberation Serif","labelFontSize":14,"labelColor":"#1a1a1a","labelPadding":14,"labelFlush":false,"labelOverlap":false,"labelSeparation":0,"titleFont":"Liberation Sans","titleFontSize":16.5,"titleFontWeight":"normal","titleColor":"#111111","titlePadding":2}},"y":{"field":"v","type":"quantitative","title":"Relatieve output in µmol/m²s","axis":{"zindex":2,"domain":false,"ticks":false,"labels":false,"grid":false,"titleFont":"Liberation Sans","titleFontSize":16.5,"titleFontWeight":"normal","titleColor":"#111111","titlePadding":10,"titleY":121}},"stroke":{"datum":"White LED","type":"nominal"}}}
 ]}
]
}
